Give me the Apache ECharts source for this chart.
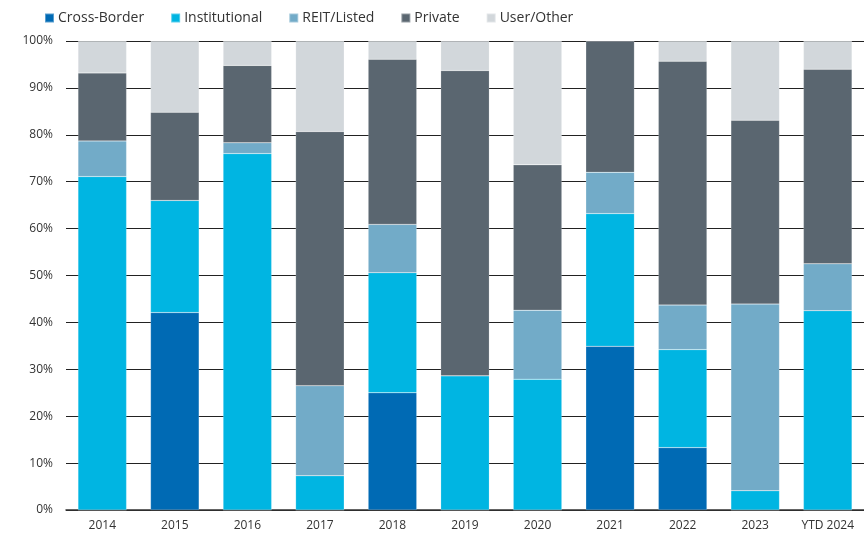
<!DOCTYPE html>
<html><head><meta charset="utf-8">
<script src="https://cdn.jsdelivr.net/npm/echarts@6/dist/echarts.min.js"></script>
<style>html,body{margin:0;padding:0;background:#fff}#c{width:864px;height:533px}</style>
</head><body><div id="c"></div>
<script>
const categories = ['2014','2015','2016','2017','2018','2019','2020','2021','2022','2023','YTD 2024'];
const crossBorder   = [0, 42.1, 0, 0, 25.0, 0, 0, 34.9, 13.3, 0, 0];
const institutional = [71.1, 23.9, 76.0, 7.3, 25.6, 28.6, 27.9, 28.3, 20.9, 4.1, 42.5];
const reitListed    = [7.6, 0, 2.3, 19.2, 10.3, 0, 14.7, 8.8, 9.5, 39.8, 10.0];
const privateBuyers = [14.5, 18.8, 16.5, 54.2, 35.2, 65.1, 31.0, 28.0, 52.0, 39.2, 41.5];
const userOther     = [6.8, 15.2, 5.2, 19.3, 3.9, 6.3, 26.4, 0, 4.3, 16.9, 6.0];
const yTicks = [0,10,20,30,40,50,60,70,80,90,100];

const seriesDefs = [
  ['Cross-Border', crossBorder, '#006AB4'],
  ['Institutional', institutional, '#00B5E2'],
  ['REIT/Listed', reitListed, '#72ABC8'],
  ['Private', privateBuyers, '#5A6670'],
  ['User/Other', userOther, '#D2D7DB']
];
const font = '"Open Sans", "Noto Sans", sans-serif';
const chart = echarts.init(document.getElementById('c'), null, {renderer:'canvas'});
chart.setOption({
  animation:false,
  textStyle:{fontFamily:font},
  legend:{
    left:39, top:6, itemWidth:9, itemHeight:9, itemGap:26, icon:'rect',
    textStyle:{fontSize:14, color:'#333', fontFamily:font, padding:[0,0,0,-1]},
    data: seriesDefs.map(s=>s[0])
  },
  grid:{left:66, right:0, top:41, bottom:23, containLabel:false},
  xAxis:{
    type:'category', data:categories,
    axisLine:{show:true, lineStyle:{color:'#333', width:1.5}},
    axisTick:{show:false},
    axisLabel:{fontSize:12, color:'#333', margin:10, fontFamily:font}
  },
  yAxis:{
    type:'value', min:yTicks[0], max:yTicks[yTicks.length-1], interval:10,
    axisLine:{show:false}, axisTick:{show:false},
    axisLabel:{fontSize:12, color:'#333', margin:13, fontFamily:font, formatter:v=>v+'%'},
    splitLine:{lineStyle:{color:'#222', width:1}}
  },
  series: seriesDefs.map(s=>({
    name:s[0], type:'bar', stack:'total', data:s[1], barWidth:'67%',
    itemStyle:{color:s[2], borderColor:'rgba(255,255,255,0.35)', borderWidth:0.5}
  }))
});
</script></body></html>
